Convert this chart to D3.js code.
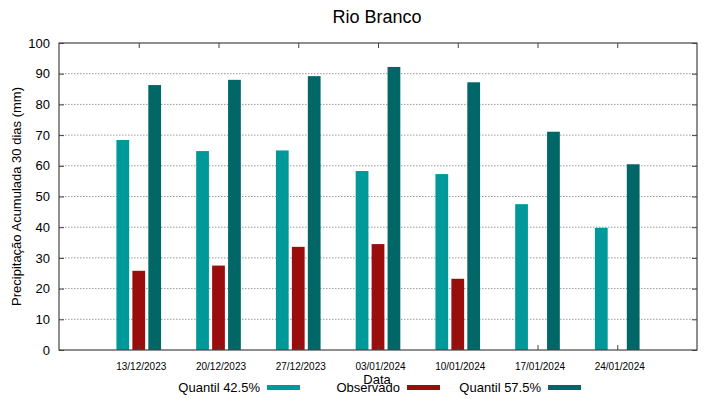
<!DOCTYPE html>
<html>
<head>
<meta charset="utf-8">
<script src="https://cdn.jsdelivr.net/npm/d3@7/dist/d3.min.js"></script>
<style>
  body { margin: 0; background: #fff; }
  text { font-family: "Liberation Sans", Arial, sans-serif; }
</style>
</head>
<body>
<div id="chart"></div>
<script>
const dates = ['13/12/2023', '20/12/2023', '27/12/2023', '03/01/2024', '10/01/2024', '17/01/2024', '24/01/2024'];
const q425 = [68.4, 64.8, 65.0, 58.3, 57.3, 47.5, 39.8];
const observado = [25.8, 27.5, 33.6, 34.5, 23.2, null, null];
const q575 = [86.3, 88.0, 89.2, 92.2, 87.2, 71.1, 60.5];
const yTicks = [0, 10, 20, 30, 40, 50, 60, 70, 80, 90, 100];

const series = [
  { name: 'Quantil 42.5%', values: q425, color: '#009999', offset: -0.2 },
  { name: 'Observado', values: observado, color: '#990d0d', offset: 0 },
  { name: 'Quantil 57.5%', values: q575, color: '#006666', offset: 0.2 }
];

const W = 719, H = 399;
const margin = { top: 43, right: 22, bottom: 49, left: 59 };
const width = W - margin.left - margin.right;
const height = H - margin.top - margin.bottom;

const svg = d3.select('#chart').append('svg')
  .attr('width', W)
  .attr('height', H);

const g = svg.append('g')
  .attr('transform', 'translate(' + margin.left + ',' + margin.top + ')');

const x = d3.scaleLinear().domain([0, 8]).range([0, width]);
const y = d3.scaleLinear().domain([0, 100]).range([height, 0]);
const barW = x(0.16) - x(0);

// grid
g.selectAll('.grid')
  .data(yTicks.filter(d => d > 0 && d < 100))
  .enter().append('line')
  .attr('x1', 0).attr('x2', width)
  .attr('y1', d => y(d)).attr('y2', d => y(d))
  .attr('stroke', '#999')
  .attr('stroke-width', 1)
  .attr('stroke-dasharray', '1.5,1.5');

// bars
series.forEach(s => {
  g.selectAll(null)
    .data(s.values.map((v, i) => ({ v, i })).filter(d => d.v != null))
    .enter().append('rect')
    .attr('x', d => x(d.i + 1 + s.offset) - barW / 2)
    .attr('width', barW)
    .attr('y', d => y(d.v))
    .attr('height', d => height - y(d.v))
    .attr('fill', s.color);
});

// axes
const xIdx = dates.map((d, i) => i + 1);
g.append('g')
  .attr('transform', 'translate(0,' + height + ')')
  .call(d3.axisBottom(x).tickValues(xIdx).tickFormat(d => dates[d - 1]).tickSizeInner(-5).tickSizeOuter(0).tickPadding(13))
  .call(a => a.select('.domain').remove())
  .call(a => a.selectAll('text').style('font-size', '10px').attr('dx', 2).attr('fill', '#000'))
  .call(a => a.selectAll('line').attr('stroke', '#444'));

g.append('g')
  .call(d3.axisTop(x).tickValues(xIdx).tickFormat('').tickSizeInner(-5).tickSizeOuter(0))
  .call(a => a.select('.domain').remove())
  .call(a => a.selectAll('line').attr('stroke', '#444'));

g.append('g')
  .call(d3.axisLeft(y).tickValues(yTicks).tickSizeInner(-5).tickSizeOuter(0).tickPadding(9))
  .call(a => a.select('.domain').remove())
  .call(a => a.selectAll('text').style('font-size', '13px').attr('fill', '#000'))
  .call(a => a.selectAll('line').attr('stroke', '#444'));

g.append('g')
  .attr('transform', 'translate(' + width + ',0)')
  .call(d3.axisRight(y).tickValues(yTicks).tickFormat('').tickSizeInner(-5).tickSizeOuter(0))
  .call(a => a.select('.domain').remove())
  .call(a => a.selectAll('line').attr('stroke', '#444'));

g.append('rect')
  .attr('width', width).attr('height', height)
  .attr('fill', 'none')
  .attr('stroke', '#444')
  .attr('stroke-width', 1.2);

// titles
svg.append('text')
  .attr('x', 377).attr('y', 23)
  .attr('text-anchor', 'middle')
  .style('font-size', '18px')
  .text('Rio Branco');

svg.append('text')
  .attr('transform', 'translate(21,' + (margin.top + height / 2) + ') rotate(-90)')
  .attr('text-anchor', 'middle')
  .style('font-size', '13px')
  .text('Precipitação Acumulada 30 dias (mm)');

svg.append('text')
  .attr('x', 377).attr('y', 384)
  .attr('text-anchor', 'middle')
  .style('font-size', '13px')
  .text('Data');

// legend
const legendEnds = [260, 400, 541];
const legend = svg.append('g');
series.forEach((s, i) => {
  legend.append('text')
    .attr('x', legendEnds[i]).attr('y', 392)
    .attr('text-anchor', 'end')
    .style('font-size', '13px')
    .text(s.name);
  legend.append('rect')
    .attr('x', legendEnds[i] + 7).attr('y', 385)
    .attr('width', 33).attr('height', 5)
    .attr('fill', s.color);
});
</script>
</body>
</html>
